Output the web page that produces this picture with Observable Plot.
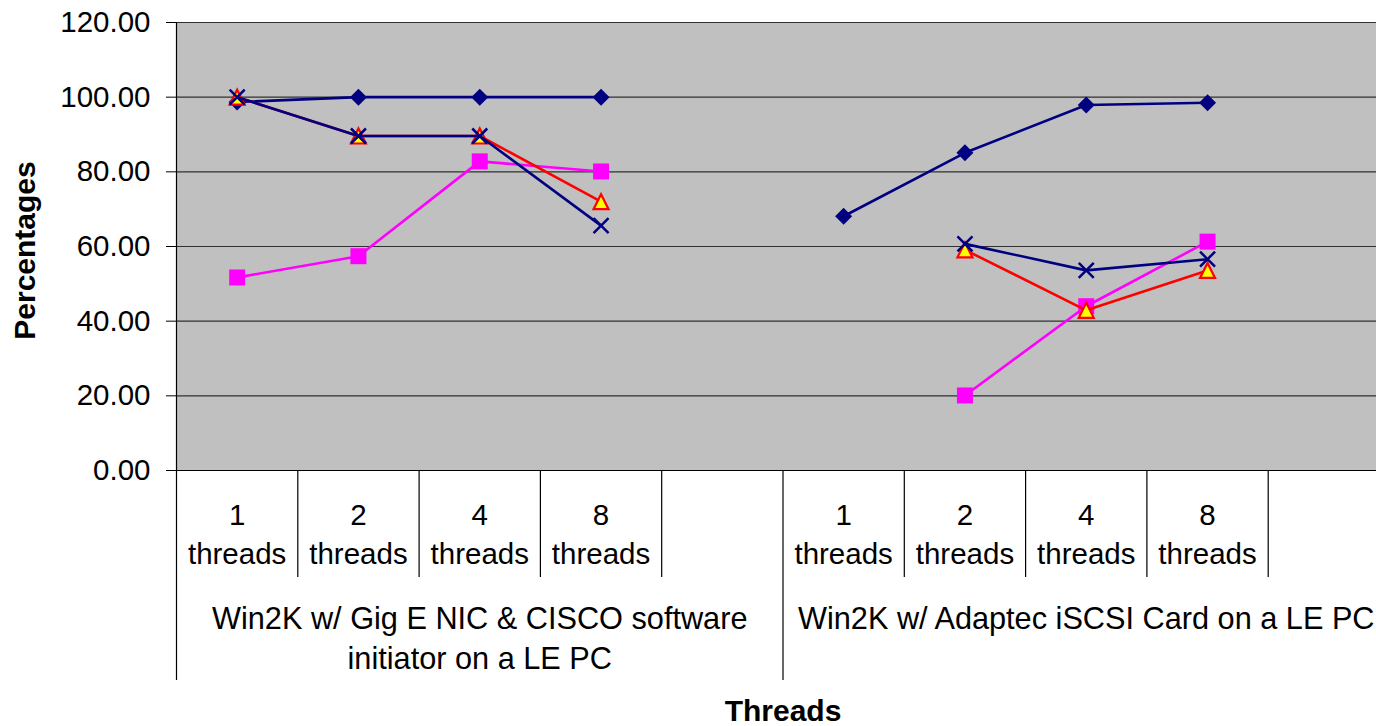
<!DOCTYPE html>
<html>
<head>
<meta charset="utf-8">
<script src="https://cdn.jsdelivr.net/npm/d3@7"></script>
<script src="https://cdn.jsdelivr.net/npm/@observablehq/plot@0.6"></script>
<style>
  html, body { margin: 0; padding: 0; background: white; overflow: hidden; }
  #chart svg { display: block; }
</style>
</head>
<body>
<div id="chart"></div>
<script>
// ---- data ----
const threadNumbers = ["1", "2", "4", "8", "", "1", "2", "4", "8", ""];
const threadWord = ["threads", "threads", "threads", "threads", "", "threads", "threads", "threads", "threads", ""];
const groupLine1 = ["Win2K w/ Gig E NIC & CISCO software", "Win2K w/ Adaptec iSCSI Card on a LE PC"];
const groupLine2 = ["initiator on a LE PC", ""];
const yTicks = [0, 20, 40, 60, 80, 100, 120];

const seriesDiamond  = [98.7, 100, 100, 100, null, 68.1, 85.1, 97.9, 98.5, null];
const seriesSquare   = [51.7, 57.4, 82.8, 80.1, null, null, 20.1, 44.0, 61.3, null];
const seriesTriangle = [100, 89.6, 89.6, 72.0, null, null, 59.1, 42.9, 53.6, null];
const seriesCross    = [100, 89.6, 89.6, 65.6, null, null, 60.7, 53.6, 56.6, null];

// ---- helpers ----
const nSlots = threadNumbers.length;
const slotsPerGroup = nSlots / groupLine1.length;
const idx = d3.range(nSlots);
const center = (i) => i + 0.5;
const bounds = d3.range(1, nSlots + 1);

const navy = "#000080", magenta = "#FF00FF", red = "#FF0000", yellow = "#FFFF00";
const rad = (size) => Math.sqrt(size / Math.PI);
const symDiamond = { draw(c, s) { const r = rad(s); c.moveTo(0, -r); c.lineTo(r, 0); c.lineTo(0, r); c.lineTo(-r, 0); c.closePath(); } };
const symSquare = { draw(c, s) { const r = rad(s); c.moveTo(-r, -r); c.lineTo(r, -r); c.lineTo(r, r); c.lineTo(-r, r); c.closePath(); } };
const symTriangle = { draw(c, s) { const r = rad(s); c.moveTo(0, -r); c.lineTo(r, r); c.lineTo(-r, r); c.closePath(); } };
const symCross = { draw(c, s) { const r = rad(s); c.moveTo(-r, -r); c.lineTo(r, r); c.moveTo(-r, r); c.lineTo(r, -r); } };

const defined = (arr) => idx.filter(i => arr[i] != null);
const FONT = "'Liberation Sans', Arial, Helvetica, sans-serif";

function seriesMarks(arr, lineColor, symbol, r, dotOpts) {
  return [
    Plot.line(idx, { x: center, y: i => arr[i], stroke: lineColor, strokeWidth: 2.6 }),
    Plot.dot(defined(arr), { x: center, y: i => arr[i], symbol, r, ...dotOpts })
  ];
}

const plot = Plot.plot({
  width: 1376,
  height: 726,
  marginTop: 22,
  marginBottom: 256,
  marginLeft: 176,
  marginRight: 0,
  style: { fontFamily: FONT, fontSize: "28px", background: "white", color: "black" },
  x: { type: "linear", domain: [0, nSlots], range: [176, 1389], axis: null },
  y: { domain: [0, 120] },
  marks: [
    Plot.frame({ fill: "#C0C0C0" }),
    Plot.ruleY(yTicks.filter(d => d > 0), { stroke: "#303030", strokeWidth: 1.2 }),
    Plot.ruleY([0], { stroke: "black", strokeWidth: 1.2 }),
    Plot.axisY({ ticks: yTicks, tickFormat: d => d.toFixed(2), tickSize: 10, tickPadding: 16, fontSize: 29.5, label: null, stroke: "black" }),
    Plot.ruleX([0], { x: d => d, y1: 120, y2: 0, insetBottom: -210, stroke: "black", strokeWidth: 1.2 }),
    Plot.ruleX(bounds.filter(b => b % slotsPerGroup !== 0), { x: d => d, y1: 0, y2: 0, insetBottom: -107, stroke: "black", strokeWidth: 1.2 }),
    Plot.ruleX(bounds.filter(b => b % slotsPerGroup === 0), { x: d => d, y1: 0, y2: 0, insetBottom: -210, stroke: "black", strokeWidth: 1.2 }),

    ...seriesMarks(seriesDiamond, navy, symDiamond, 8.5, { fill: navy, stroke: "none" }),
    ...seriesMarks(seriesSquare, magenta, symSquare, 8, { fill: magenta, stroke: "none" }),
    ...seriesMarks(seriesTriangle, red, symTriangle, 7.5, { fill: yellow, stroke: red, strokeWidth: 2.2 }),
    ...seriesMarks(seriesCross, navy, symCross, 7.5, { fill: "none", stroke: navy, strokeWidth: 2.5 }),

    Plot.text(idx, { x: center, y: 0, text: i => threadNumbers[i], dy: 54.5, lineAnchor: "bottom", fontSize: 29.5, fill: "black" }),
    Plot.text(idx, { x: center, y: 0, text: i => threadWord[i], dy: 93, lineAnchor: "bottom", fontSize: 29.5, fill: "black" }),
    Plot.text(d3.range(groupLine1.length), { x: g => g * slotsPerGroup + slotsPerGroup / 2, y: 0, text: g => groupLine1[g], dy: 158, lineAnchor: "bottom", fontSize: 30.7, fill: "black" }),
    Plot.text(d3.range(groupLine2.length), { x: g => g * slotsPerGroup + slotsPerGroup / 2, y: 0, text: g => groupLine2[g], dy: 198, lineAnchor: "bottom", fontSize: 30.7, fill: "black" }),
    Plot.text(["Threads"], { x: nSlots / 2, y: 0, text: d => d, dy: 250, lineAnchor: "bottom", fontSize: 30, fontWeight: "bold", fill: "black" }),
    Plot.text(["Percentages"], { frameAnchor: "left", text: d => d, textAnchor: "middle", dx: -151, dy: 4, rotate: -90, fontSize: 30, fontWeight: "bold", fill: "black" })
  ]
});
document.getElementById("chart").appendChild(plot);
</script>
</body>
</html>
